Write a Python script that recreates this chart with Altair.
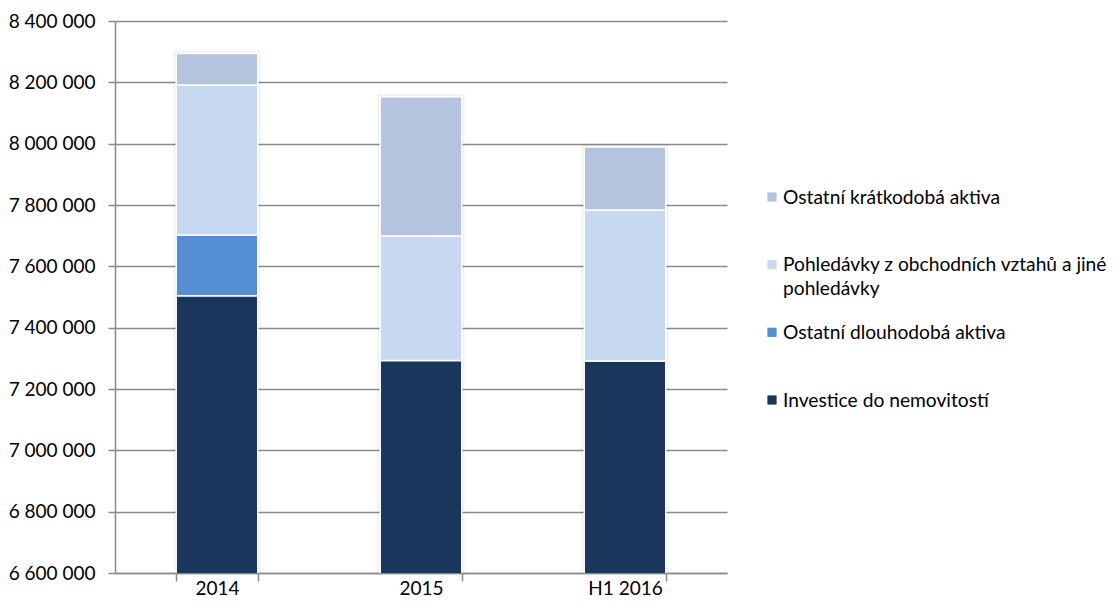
import altair as alt
import pandas as pd

categories = ["2014", "2015", "H1 2016"]
series = [
    "Investice do nemovitostí",
    "Ostatní dlouhodobá aktiva",
    "Pohledávky z obchodních vztahů a jiné pohledávky",
    "Ostatní krátkodobá aktiva",
]
investice = [7504000, 7293000, 7291000]
dlouhodoba = [198000, 0, 0]
pohledavky = [489000, 406000, 493000]
kratkodoba = [103000, 454000, 205000]
colors = ["#1B365D", "#558ED5", "#C6D9F1", "#B4C3DE"]
y_ticks = [6600000, 6800000, 7000000, 7200000, 7400000, 7600000, 7800000,
           8000000, 8200000, 8400000]
legend_order = [series[3], series[2], series[1], series[0]]
legend_labels = [
    "Ostatní krátkodobá aktiva",
    "Pohledávky z obchodních vztahů a jiné\npohledávky",
    "Ostatní dlouhodobá aktiva",
    "Investice do nemovitostí",
]

rows = []
for s_idx, (name, vals) in enumerate(zip(series, [investice, dlouhodoba, pohledavky, kratkodoba])):
    for c, v in zip(categories, vals):
        if v > 0:
            rows.append({"cat": c, "series": name, "value": v, "ord": s_idx})
df = pd.DataFrame(rows)
leg_df = pd.DataFrame({"series": legend_order, "label": legend_labels})

FONT = "Lato"
GRAY = "#8A8A8A"
color_scale = alt.Scale(domain=series, range=colors)

x_enc = alt.X("cat:N", sort=categories,
              scale=alt.Scale(paddingInner=0.6, paddingOuter=0.3),
              axis=alt.Axis(title=None, labelAngle=0, tickBand="extent", tickSize=8,
                            labelPadding=13, labelBaseline="alphabetic",
                            labelFontSize=19, labelFont=FONT,
                            labelColor="#000000", domainColor=GRAY, tickColor=GRAY,
                            domainWidth=1.5, tickWidth=1.5, grid=False))
y_scale = alt.Scale(domain=[6600000, 8400000], zero=False, nice=False)
y_axis = alt.Axis(title=None, values=y_ticks, tickSize=7, labelPadding=13,
                  labelFontSize=19, labelFont=FONT, labelColor="#000000",
                  labelExpr="replace(format(datum.value, ','), regexp(',', 'g'), ' ')",
                  domainColor=GRAY, tickColor=GRAY, gridColor=GRAY,
                  domainWidth=1.5, tickWidth=1.5, gridWidth=1.5)

shadow = alt.Chart(df).transform_aggregate(
    total="sum(value)", groupby=["cat"]
).transform_calculate(base="6600000")
shadow_outer = shadow.mark_bar(clip=True, fill=None, stroke="#000000",
                               strokeOpacity=0.025, strokeWidth=7).encode(
    x=x_enc,
    y=alt.Y("base:Q", scale=y_scale, axis=y_axis),
    y2="total:Q",
)
shadow_inner = shadow.mark_bar(clip=True, fill=None, stroke="#000000",
                               strokeOpacity=0.04, strokeWidth=4).encode(
    x=x_enc,
    y=alt.Y("base:Q", scale=y_scale, axis=y_axis),
    y2="total:Q",
)

bars = alt.Chart(df).mark_bar(clip=True, stroke="white", strokeWidth=1.5).encode(
    x=x_enc,
    y=alt.Y("value:Q", stack="zero", scale=y_scale, axis=y_axis),
    color=alt.Color("series:N", scale=color_scale, legend=None),
    order=alt.Order("ord:Q"),
)

leg_y = alt.Y("series:N", sort=legend_order, axis=None,
              scale=alt.Scale(type="point", padding=0, range=[176, 379]))

leg_sq = alt.Chart(leg_df).mark_square(size=85, opacity=1).encode(
    x=alt.value(657),
    y=leg_y,
    color=alt.Color("series:N", scale=color_scale, legend=None),
)
leg_tx = alt.Chart(leg_df).mark_text(align="left", baseline="alphabetic", dy=6.5,
                                     lineBreak="\n", lineHeight=24, fontSize=19.2,
                                     font=FONT, color="#000000").encode(
    x=alt.value(668),
    y=leg_y,
    text="label:N",
)

main = alt.layer(shadow_outer, shadow_inner, bars)
chart = alt.layer(main, leg_sq, leg_tx).resolve_scale(y="independent").properties(
    width=612, height=552,
    autosize=alt.AutoSizeParams(type="none"),
    padding={"left": 107, "top": 13, "right": 382, "bottom": 27},
).configure_view(stroke=None)

chart.save("out.html", embed_options={"renderer": "svg", "actions": False})
